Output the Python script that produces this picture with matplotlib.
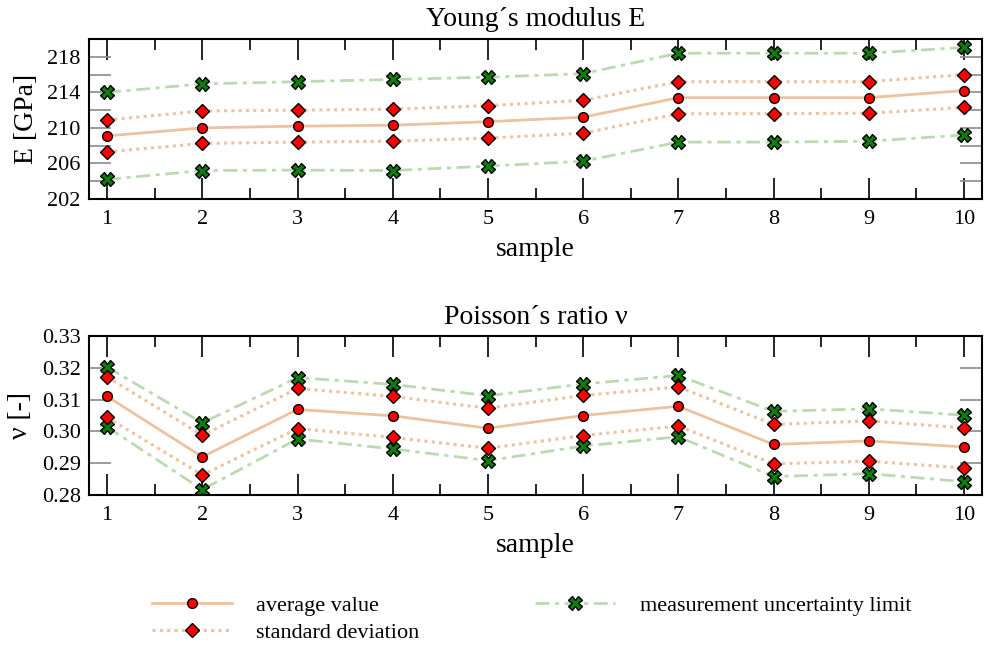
import numpy as np
import matplotlib
matplotlib.use('Agg')
import matplotlib.pyplot as plt
from matplotlib.ticker import MultipleLocator, FormatStrFormatter

plt.rcParams['font.family'] = ['Liberation Serif', 'DejaVu Serif']

samples = np.arange(1, 11)

# Young's modulus E [GPa]
e_avg = [209.1, 210.0, 210.2, 210.3, 210.7, 211.2, 213.4, 213.4, 213.4, 214.2]
e_sd_hi = [210.9, 211.9, 212.0, 212.1, 212.5, 213.1, 215.2, 215.2, 215.2, 216.0]
e_sd_lo = [207.3, 208.25, 208.4, 208.5, 208.85, 209.4, 211.6, 211.6, 211.65, 212.3]
e_lim_hi = [214.0, 214.95, 215.2, 215.45, 215.7, 216.1, 218.4, 218.4, 218.4, 219.05]
e_lim_lo = [204.2, 205.2, 205.25, 205.2, 205.7, 206.25, 208.4, 208.4, 208.5, 209.2]
e_ticks = [202, 206, 210, 214, 218]

# Poisson's ratio nu [-]
nu_avg = [0.311, 0.292, 0.3069, 0.3049, 0.301, 0.305, 0.3079, 0.2959, 0.297, 0.2951]
nu_sd_hi = [0.3171, 0.2988, 0.3135, 0.311, 0.3073, 0.3113, 0.314, 0.3022, 0.3033, 0.3011]
nu_sd_lo = [0.3044, 0.2863, 0.3009, 0.2981, 0.2947, 0.2987, 0.3017, 0.2898, 0.2906, 0.2885]
nu_lim_hi = [0.3202, 0.3027, 0.3169, 0.3148, 0.3112, 0.3149, 0.3176, 0.3063, 0.3071, 0.3051]
nu_lim_lo = [0.3014, 0.2817, 0.2976, 0.2945, 0.2908, 0.2954, 0.2983, 0.2858, 0.2867, 0.2842]

tan = '#ecc2a0'
green_line = '#bcdab0'
red = '#ff0000'
green_mk = '#0d7d0d'

avg_kw = dict(color=tan, lw=2.0, ls='-', marker='o', ms=7, mfc=red, mec='black', mew=1.0)
sd_kw = dict(color=tan, lw=2.2, ls=(0, (1, 1.4)), marker='D', ms=7, mfc=red, mec='black', mew=1.0)
lim_kw = dict(color=green_line, lw=2.0, ls=(0, (5, 2, 1.5, 2)), marker='X', ms=10, mfc=green_mk, mec='black', mew=1.0)

fig = plt.figure(figsize=(9.84, 6.45), dpi=100)
ax1 = fig.add_axes([89 / 984, 1 - 199 / 645, 1 - 89 / 984 - 0.002, (199 - 39) / 645])
ax2 = fig.add_axes([89 / 984, 1 - 495 / 645, 1 - 89 / 984 - 0.002, (495 - 336) / 645])


def draw(ax, avg, sd_hi, sd_lo, lim_hi, lim_lo, legend=False):
    ax.plot(samples, lim_hi, **lim_kw, label='measurement uncertainty limit' if legend else None)
    ax.plot(samples, lim_lo, **lim_kw)
    ax.plot(samples, sd_hi, **sd_kw, label='standard deviation' if legend else None)
    ax.plot(samples, sd_lo, **sd_kw)
    ax.plot(samples, avg, **avg_kw, label='average value' if legend else None)
    ax.set_xlim(0.81, 10.19)
    ax.xaxis.set_major_locator(MultipleLocator(1))
    ax.xaxis.set_minor_locator(MultipleLocator(0.5))
    ax.tick_params(axis='x', which='major', direction='in', length=15, width=1.2,
                   top=True, labelsize=16, pad=8)
    ax.tick_params(axis='x', which='minor', direction='in', length=8, width=1.2, top=True)
    ax.tick_params(axis='y', which='both', direction='in', length=16, width=1.2,
                   color='#8a8a8a', right=True, labelsize=16, pad=6)
    for s in ax.spines.values():
        s.set_linewidth(1.5)
    ax.set_xlabel('sample', fontsize=20, labelpad=6)


draw(ax1, e_avg, e_sd_hi, e_sd_lo, e_lim_hi, e_lim_lo, legend=True)
ax1.set_ylim(202, 220)
ax1.set_yticks(e_ticks)
ax1.yaxis.set_minor_locator(MultipleLocator(2))
ax1.set_ylabel('E [GPa]', fontsize=20, labelpad=6)
ax1.set_title('Young\u00b4s modulus E', fontsize=20, pad=9)

draw(ax2, nu_avg, nu_sd_hi, nu_sd_lo, nu_lim_hi, nu_lim_lo)
ax2.set_ylim(0.28, 0.33)
ax2.yaxis.set_major_locator(MultipleLocator(0.01))
ax2.yaxis.set_major_formatter(FormatStrFormatter('%.2f'))
ax2.set_ylabel('\u03bd [-]', fontsize=20, labelpad=6)
ax2.set_title('Poisson\u00b4s ratio \u03bd', fontsize=20, pad=9)

h, l = ax1.get_legend_handles_labels()
order = [2, 1, 0]
fig.legend([h[i] for i in order], [l[i] for i in order], ncol=2,
           loc='upper left', bbox_to_anchor=(152 / 984, 1 - 595 / 645),
           frameon=False, fontsize=16, handlelength=3.6, handletextpad=1.1,
           columnspacing=5.2, labelspacing=0.3, borderpad=0, borderaxespad=0)

fig.savefig('out.png', dpi=100)
